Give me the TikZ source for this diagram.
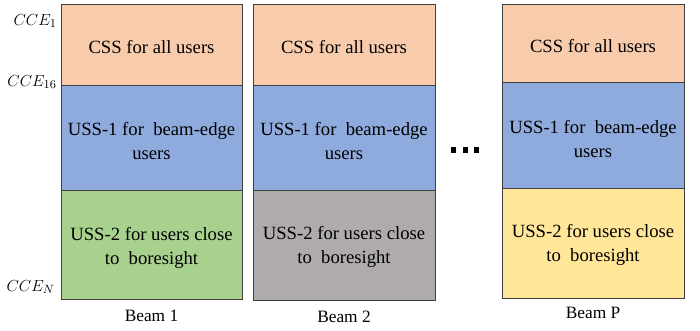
\documentclass[tikz,border=0pt]{standalone}
\usepackage{amsmath}
\usepackage{fontspec}
\setmainfont{Liberation Serif}
\usepackage{tikz}
\usepackage{color}

\definecolor{cssfill}{RGB}{248,203,173}
\definecolor{ussonefill}{RGB}{143,170,220}
\definecolor{greenfill}{RGB}{169,209,142}
\definecolor{grayfill}{RGB}{175,171,171}
\definecolor{yellowfill}{RGB}{255,230,153}
\definecolor{edgegray}{RGB}{64,64,64}

\tikzset{
  blockline/.style={draw=edgegray, line width=0.75pt},
  blocktext/.style={inner sep=0.75pt, align=center, font=\rmfamily\fontsize{14}{18}\selectfont},
  cclabel/.style={inner sep=0.75pt, anchor=east, font=\fontsize{13}{15}\selectfont},
  beamlabel/.style={inner sep=0.75pt, font=\rmfamily\fontsize{13}{15}\selectfont}
}

\begin{document}
\begin{tikzpicture}[x=0.75pt,y=0.75pt,yscale=-1,xscale=1]
\useasboundingbox (0,0) rectangle (700,330);

%Shape: Rectangle [Beam 1]
\draw  [blockline, fill=cssfill] (61,4) rectangle (242,85) ;
\draw  [blockline, fill=ussonefill] (61,85) rectangle (242,190.5) ;
\draw  [blockline, fill=greenfill] (61,190.5) rectangle (242,299) ;
%Shape: Rectangle [Beam 2]
\draw  [blockline, fill=cssfill] (253.5,4) rectangle (435,85) ;
\draw  [blockline, fill=ussonefill] (253.5,85) rectangle (435,190.5) ;
\draw  [blockline, fill=grayfill] (253.5,190.5) rectangle (435,300) ;
%Shape: Rectangle [Beam P]
\draw  [blockline, fill=cssfill] (502,4) rectangle (684,82.5) ;
\draw  [blockline, fill=ussonefill] (502,82.5) rectangle (684,188) ;
\draw  [blockline, fill=yellowfill] (502,188) rectangle (684,298) ;

%Shape: Square [dots]
\fill (451,147) rectangle (456,153) ;
\fill (463,147) rectangle (468,153) ;
\fill (474,147) rectangle (479,153) ;

% Text Node
\node (cssa) at (151.5,47) [blocktext] {CSS for all users};
% Text Node
\node (ussonea) at (151.5,141) [blocktext] {USS-1 for\ \ beam-edge\\users};
% Text Node
\node (usstwoa) at (151.5,247.5) [blocktext] {USS-2 for users close\\to\ \ boresight};
% Text Node
\node (cssb) at (344,47) [blocktext] {CSS for all users};
% Text Node
\node (ussoneb) at (344,141) [blocktext] {USS-1 for\ \ beam-edge\\users};
% Text Node
\node (usstwob) at (344,246.5) [blocktext] {USS-2 for users close\\to\ \ boresight};
% Text Node
\node (cssp) at (593,46) [blocktext] {CSS for all users};
% Text Node
\node (ussonep) at (593,139.5) [blocktext] {USS-1 for\ \ beam-edge\\users};
% Text Node
\node (usstwop) at (593,244.5) [blocktext] {USS-2 for users close\\to\ \ boresight};

% Text Node
\node (cceone) at (58,21) [cclabel] {$CCE_1$};
% Text Node
\node (ccesixteen) at (58,82) [cclabel] {$CCE_{16}$};
% Text Node
\node (ccen) at (56,287) [cclabel] {$CCE_N$};

% Text Node
\node (beamone) at (151.5,316) [beamlabel] {Beam 1};
% Text Node
\node (beamtwo) at (344,317) [beamlabel] {Beam 2};
% Text Node
\node (beamp) at (593,313) [beamlabel] {Beam P};

\end{tikzpicture}
\end{document}
